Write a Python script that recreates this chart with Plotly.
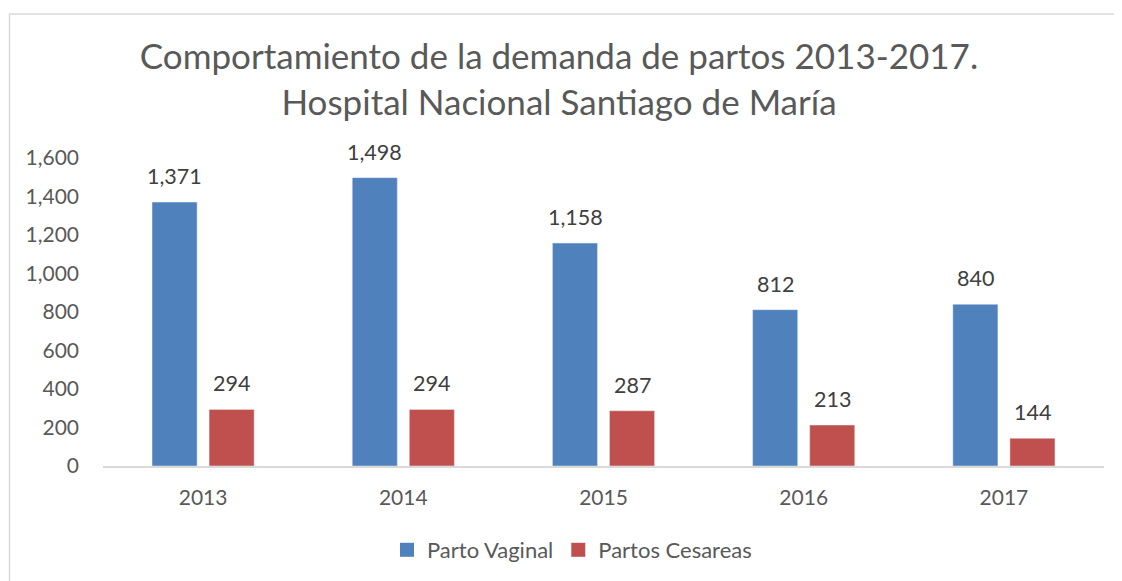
import plotly.graph_objects as go

years = ["2013", "2014", "2015", "2016", "2017"]
vaginal = [1371, 1498, 1158, 812, 840]
cesareas = [294, 294, 287, 213, 144]
series_names = ["Parto Vaginal", "Partos Cesareas"]
title_lines = ["Comportamiento de la demanda de partos 2013-2017.", "Hospital Nacional Santiago de María"]
y_ticks = [0, 200, 400, 600, 800, 1000, 1200, 1400, 1600]

FONT = "Lato, 'Open Sans', sans-serif"
BLUE = "#4F81BD"
RED = "#C0504D"

# page has an 8px body margin: design in figure pixels = page pixels - 8
OFF = 8
W, H = 1122, 581
plot_left, plot_right, plot_top, plot_bottom = 103 - OFF, 1104 - OFF, 158 - OFF, 466 - OFF
L, R, T, B = plot_left, W - plot_right, plot_top, H - plot_bottom
pw, ph = W - L - R, H - T - B

def px2paper_x(px):
    return (px - OFF - L) / pw

def px2paper_y(py):
    return (H - B - (py - OFF)) / ph

fig = go.Figure()
fig.add_trace(go.Bar(x=years, y=vaginal, name=series_names[0], marker_color=BLUE, showlegend=False))
fig.add_trace(go.Bar(x=years, y=cesareas, name=series_names[1], marker_color=RED, showlegend=False))
# legend entries with larger square symbols
for name, col in zip(series_names, (BLUE, RED)):
    fig.add_trace(go.Scatter(x=[None], y=[None], mode="markers", name=name,
                             marker=dict(symbol="square", size=14, color=col), showlegend=True))

# data labels (category axis: annotation x is the category index)
for vals, shift in ((vaginal, -28.5), (cesareas, 28.5)):
    for i, v in enumerate(vals):
        fig.add_annotation(x=i, y=v, text=f"{v:,}", showarrow=False, xshift=shift, yshift=26,
                           yanchor="middle", font=dict(family=FONT, size=21.5, color="#404040"))

fig.add_shape(type="rect", xref="paper", yref="paper",
              x0=px2paper_x(9.5), x1=px2paper_x(1150), y0=px2paper_y(620), y1=px2paper_y(14),
              line=dict(color="#d9d9d9", width=1.5), fillcolor="rgba(0,0,0,0)", layer="below")

fig.update_layout(
    width=W, height=H,
    margin=dict(l=L, r=R, t=T, b=B, autoexpand=False),
    paper_bgcolor="white", plot_bgcolor="white",
    barmode="group", bargap=0.43, bargroupgap=0.21,
    title=dict(text="<br>".join(title_lines), x=(559 - OFF) / W, xref="container", xanchor="center",
               y=1 - (69 - OFF) / H, yref="container", yanchor="middle",
               font=dict(family=FONT, size=35, color="#595959")),
    font=dict(family=FONT, color="#595959"),
    showlegend=True,
    legend=dict(orientation="h", x=px2paper_x(572), xanchor="center", y=px2paper_y(550), yanchor="middle",
                font=dict(family=FONT, size=22, color="#595959"), itemwidth=30,
                traceorder="normal"),
    xaxis=dict(type="category", range=[-0.5, len(years) - 0.5], showline=True, linecolor="#d9d9d9",
               linewidth=1.5, ticks="", showgrid=False,
               tickfont=dict(family=FONT, size=21, color="#595959"), ticklabelstandoff=12),
    yaxis=dict(range=[0, 1600], tickvals=y_ticks, tickformat=",", showgrid=False, zeroline=False,
               showline=False, tickfont=dict(family=FONT, size=21, color="#595959"), ticklabelstandoff=23),
)

fig.write_html("out.html")
